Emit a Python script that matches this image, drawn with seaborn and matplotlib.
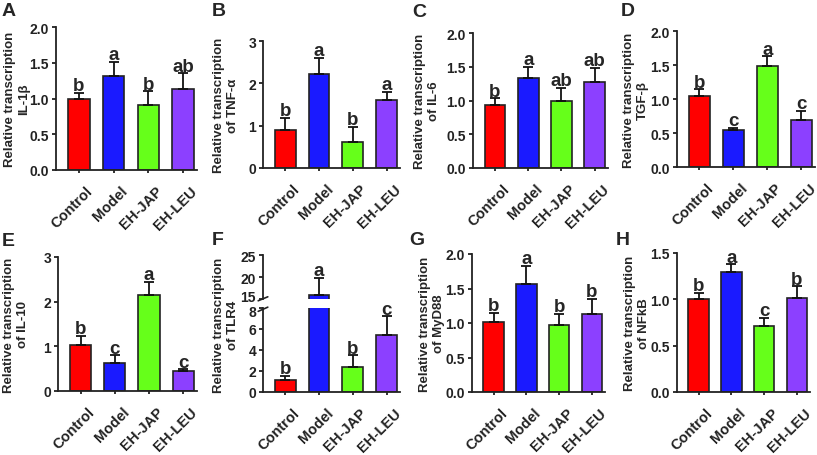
import numpy as np
import matplotlib
matplotlib.use('Agg')
import matplotlib.pyplot as plt
import matplotlib.transforms as mtransforms
import seaborn as sns

groups = ['Control', 'Model', 'EH-JAP', 'EH-LEU']
colors = ['#ff0000', '#1a1aff', '#66ff1a', '#8c40ff']

# mean values and upper error (SD)
il1b = [1.00, 1.31, 0.91, 1.13]
il1b_err = [0.08, 0.20, 0.19, 0.22]
il1b_sig = ['b', 'a', 'b', 'ab']

tnfa = [0.90, 2.22, 0.62, 1.60]
tnfa_err = [0.28, 0.38, 0.35, 0.20]
tnfa_sig = ['b', 'a', 'b', 'a']

il6 = [0.94, 1.33, 1.00, 1.28]
il6_err = [0.09, 0.17, 0.19, 0.20]
il6_sig = ['b', 'a', 'ab', 'ab']

tgfb = [1.05, 0.54, 1.49, 0.69]
tgfb_err = [0.09, 0.04, 0.14, 0.14]
tgfb_sig = ['b', 'c', 'a', 'c']

il10 = [1.02, 0.63, 2.16, 0.45]
il10_err = [0.21, 0.17, 0.29, 0.04]
il10_sig = ['b', 'c', 'a', 'c']

tlr4 = [1.10, 16.0, 2.40, 5.40]
tlr4_err = [0.45, 3.8, 1.10, 1.80]
tlr4_sig = ['b', 'a', 'b', 'c']

myd88 = [1.01, 1.56, 0.97, 1.13]
myd88_err = [0.14, 0.27, 0.16, 0.22]
myd88_sig = ['b', 'a', 'b', 'b']

nfkb = [1.00, 1.29, 0.71, 1.01]
nfkb_err = [0.07, 0.09, 0.09, 0.13]
nfkb_sig = ['b', 'a', 'c', 'b']

W, H = 817, 456
sns.set_theme(style='ticks')
plt.rcParams['font.family'] = ['Liberation Sans', 'DejaVu Sans']
plt.rcParams['font.weight'] = 'bold'
plt.rcParams['axes.labelweight'] = 'bold'
plt.rcParams['axes.linewidth'] = 1.3
plt.rcParams['xtick.major.width'] = 1.3
plt.rcParams['ytick.major.width'] = 1.3
plt.rcParams['xtick.major.size'] = 2.5
plt.rcParams['ytick.major.size'] = 3
plt.rcParams['xtick.color'] = '#222222'
plt.rcParams['ytick.color'] = '#222222'
plt.rcParams['axes.edgecolor'] = '#222222'

fig = plt.figure(figsize=(W / 100, H / 100), dpi=100)
shift = mtransforms.ScaledTranslation(5 / 72, 0, fig.dpi_scale_trans)


def box(l, t, r, b):
    return [l / W, 1 - b / H, (r - l) / W, (b - t) / H]


def bars(ax, means, errs, sig, show_sig=True):
    sns.barplot(x=groups, y=means, hue=groups, palette=colors, legend=False,
                width=0.62, edgecolor='#222222', linewidth=1.2, saturation=1,
                ax=ax)
    x = np.arange(len(groups))
    ax.errorbar(x, means, yerr=[np.zeros(len(errs)), errs], fmt='none',
                ecolor='#111111', elinewidth=1.3, capsize=3.8, capthick=1.3,
                zorder=1)
    if show_sig:
        for xi, m, e, s in zip(x, means, errs, sig):
            ax.annotate(s, (xi, m + e), xytext=(0, -1), textcoords='offset points',
                        ha='center', va='bottom', fontsize=13.5, fontweight='bold')
    ax.set_xlim(-0.66, 3.4)
    ax.set_xlabel('')
    ax.set_ylabel('')
    sns.despine(ax=ax)


def xlabels(ax):
    ax.set_xticks(range(4))
    ax.set_xticklabels(groups, rotation=45, ha='right', va='top',
                       rotation_mode='anchor', fontsize=10.5, fontweight='bold')
    ax.tick_params(axis='x', pad=7)
    for lab in ax.get_xticklabels():
        lab.set_transform(lab.get_transform() + shift)


def style(ax, ylim, yticks, fmt):
    ax.set_ylim(*ylim)
    ax.set_yticks(yticks)
    ax.set_yticklabels([fmt.format(v) for v in yticks], fontsize=10, fontweight='bold')
    ax.tick_params(axis='y', pad=2)
    xlabels(ax)


def ylabel(xc, yc, text):
    fig.text(xc / W, 1 - yc / H, text, rotation=90, fontsize=9.5,
             fontweight='bold', ha='center', va='center', linespacing=1.25)


def tag(x, y, letter):
    fig.text(x / W, 1 - y / H, letter, fontsize=14, fontweight='bold',
             ha='left', va='top')


panels = [
    ('A', (56, 28, 197, 171), il1b, il1b_err, il1b_sig, (0, 2.0),
     [0, 0.5, 1.0, 1.5, 2.0], '{:.1f}', 'Relative transcription\nIL-1β', 17, (2, 3)),
    ('B', (263, 42, 400, 169), tnfa, tnfa_err, tnfa_sig, (0, 3),
     [0, 1, 2, 3], '{:.0f}', 'Relative transcription\nof TNF-α', 226, (212, 3)),
    ('C', (473, 34, 608, 169), il6, il6_err, il6_sig, (0, 2.0),
     [0, 0.5, 1.0, 1.5, 2.0], '{:.1f}', 'Relative transcription\nof IL-6', 427, (412, 4)),
    ('D', (677, 32, 815, 168), tgfb, tgfb_err, tgfb_sig, (0, 2.0),
     [0, 0.5, 1.0, 1.5, 2.0], '{:.1f}', 'Relative transcription\nTGF-β', 636, (621, 3)),
    ('E', (58, 258, 197, 392), il10, il10_err, il10_sig, (0, 3),
     [0, 1, 2, 3], '{:.0f}', 'Relative transcription\nof IL-10', 16, (2, 233)),
    ('G', (472, 255, 605, 393), myd88, myd88_err, myd88_sig, (0, 2.0),
     [0, 0.5, 1.0, 1.5, 2.0], '{:.1f}', 'Relative transcription\nof MyD88', 432, (409, 232)),
    ('H', (677, 254, 810, 393), nfkb, nfkb_err, nfkb_sig, (0, 1.5),
     [0, 0.5, 1.0, 1.5], '{:.1f}', 'Relative transcription\nof NFkB', 637, (616, 232)),
]

for letter, pos, m, e, s, ylim, yt, fmt, lab, lx, lpos in panels:
    ax = fig.add_axes(box(*pos))
    bars(ax, m, e, s)
    style(ax, ylim, yt, fmt)
    ylabel(lx, (pos[1] + pos[3]) / 2, lab)
    tag(lpos[0], lpos[1], letter)

# panel F with broken y axis
axl = fig.add_axes(box(263, 309, 400, 393))
axu = fig.add_axes(box(263, 256, 400, 300), sharex=axl)
bars(axl, tlr4, tlr4_err, tlr4_sig)
for t in list(axl.texts):
    if t.get_text() == 'a':
        t.remove()
style(axl, (0, 8), [0, 2, 4, 6, 8], '{:.0f}')
axl.get_yticklabels()[-1].set_transform(
    axl.get_yticklabels()[-1].get_transform()
    + mtransforms.ScaledTranslation(0, -1.5 / 72, fig.dpi_scale_trans))
bars(axu, tlr4, tlr4_err, tlr4_sig, show_sig=False)
axu.annotate('a', (1, tlr4[1] + tlr4_err[1]), xytext=(0, -1),
             textcoords='offset points', ha='center', va='bottom',
             fontsize=13.5, fontweight='bold')
axu.set_ylim(15, 25)
axu.set_yticks([15, 20, 25])
axu.set_yticklabels(['15', '20', '25'], fontsize=10, fontweight='bold')
axu.tick_params(axis='y', pad=2)
lab15 = axu.get_yticklabels()[0]
lab15.set_transform(lab15.get_transform()
                    + mtransforms.ScaledTranslation(0, 2.5 / 72, fig.dpi_scale_trans))
axu.spines['bottom'].set_visible(False)
axu.tick_params(axis='x', bottom=False, labelbottom=False)
xlabels(axl)
ylabel(226, 325, 'Relative transcription\nof TLR4')
axu.plot([-0.035, 0.035], [-0.04, 0.05], transform=axu.transAxes, color='#222222',
         lw=1.2, clip_on=False)
axl.plot([-0.035, 0.035], [0.96, 1.01], transform=axl.transAxes, color='#222222',
         lw=1.2, clip_on=False)
tag(212, 232, 'F')

fig.savefig('out.png', dpi=100)
